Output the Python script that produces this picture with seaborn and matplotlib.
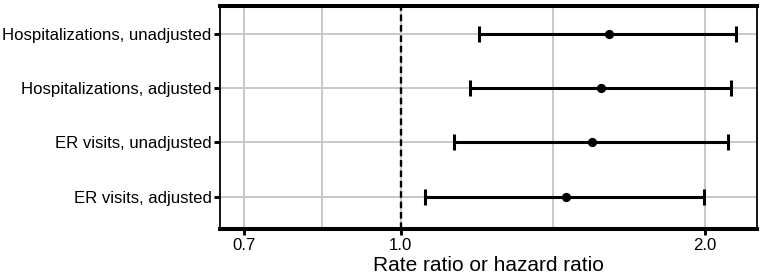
import numpy as np
import matplotlib
matplotlib.use("Agg")
import matplotlib.pyplot as plt
from matplotlib.ticker import FixedLocator, NullFormatter
import seaborn as sns
import pandas as pd

outcomes = [
    "Hospitalizations, unadjusted",
    "Hospitalizations, adjusted",
    "ER visits, unadjusted",
    "ER visits, adjusted",
]
estimate = [1.608, 1.578, 1.547, 1.457]
lower = [1.196, 1.170, 1.129, 1.058]
upper = [2.146, 2.120, 2.106, 1.993]

major_ticks = [0.7, 1.0, 2.0]
major_labels = ["0.7", "1.0", "2.0"]

sns.set_theme(style="white")
plt.rcParams["font.family"] = ["Liberation Sans", "DejaVu Sans"]

df = pd.DataFrame({"outcome": outcomes, "est": estimate, "lo": lower, "hi": upper})
df["pos"] = np.arange(len(df))

fig, ax = plt.subplots(figsize=(7.7, 2.76), dpi=100)
fig.subplots_adjust(left=0.2857, right=0.983, top=0.980, bottom=0.172)

ax.set_xscale("log")
ax.set_xlim(0.663, 2.25)
ax.set_ylim(3.59, -0.53)

# grid: majors + ggplot-style minor breaks halfway (in log space)
minor = [np.sqrt(a * b) for a, b in zip(major_ticks[:-1], major_ticks[1:])]
ax.xaxis.set_major_locator(FixedLocator(major_ticks))
ax.xaxis.set_minor_locator(FixedLocator(minor))
ax.xaxis.set_minor_formatter(NullFormatter())
ax.set_xticklabels(major_labels)
ax.set_yticks(df["pos"])
ax.set_yticklabels(df["outcome"])
ax.grid(True, which="both", axis="x", color="#c8c8c8", lw=1.4, zorder=0)
ax.grid(True, which="major", axis="y", color="#c8c8c8", lw=1.4, zorder=0)
ax.set_axisbelow(True)

ax.axvline(1.0, color="black", lw=1.7, ls=(0, (2.8, 1.6)), zorder=2)

ax.errorbar(df["est"], df["pos"],
            xerr=[df["est"] - df["lo"], df["hi"] - df["est"]],
            fmt="none", ecolor="black", elinewidth=2.2, capsize=5.5,
            capthick=2.2, zorder=3)
sns.scatterplot(data=df, x="est", y="pos", color="black", s=44,
                edgecolor="black", linewidth=0, zorder=4, ax=ax)

for side in ["top", "bottom"]:
    ax.spines[side].set_linewidth(2.9)
for side in ["left", "right"]:
    ax.spines[side].set_linewidth(1.3)
for s in ax.spines.values():
    s.set_color("black")

ax.tick_params(axis="both", which="major", length=4, width=2.1, color="black",
               labelsize=12.1, labelcolor="black", pad=2)
ax.tick_params(axis="x", which="minor", length=0)
ax.tick_params(axis="x", which="major", bottom=True, pad=3)
ax.tick_params(axis="y", which="major", left=True)

ax.set_ylabel("")
ax.set_xlabel("Rate ratio or hazard ratio", fontsize=15, color="black", labelpad=2)

fig.savefig("out.png", dpi=100)
